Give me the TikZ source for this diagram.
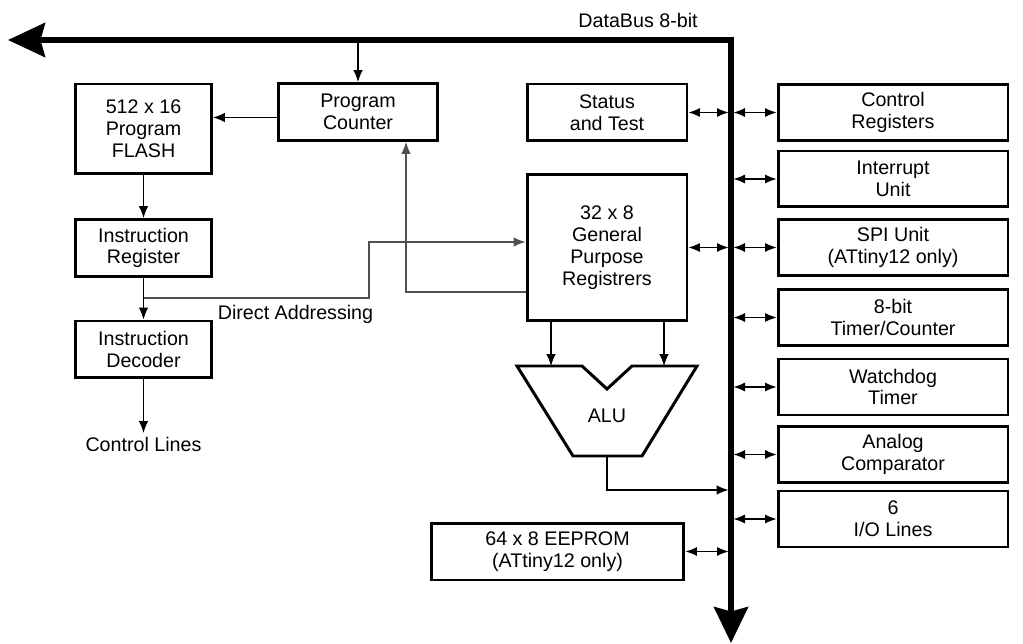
\documentclass[tikz,border=0pt]{standalone}
\usepackage{fontspec}
\setmainfont{Liberation Sans}
\usetikzlibrary{arrows.meta}
\definecolor{wiregray}{HTML}{505050}

\tikzset{
  blk/.style={draw, line width=1.7pt, align=center, inner sep=0pt, minimum height=1.14cm},
  lbl/.style={inner sep=2pt},
  arr/.style={-{Latex[length=0.24cm,width=0.19cm]}, line width=0.6pt},
  garr/.style={arr, draw=wiregray},
  dbl/.style={{Latex[length=0.23cm,width=0.18cm]}-{Latex[length=0.23cm,width=0.18cm]}, line width=0.6pt},
  bus/.style={{Stealth[length=0.74cm,width=0.68cm,inset=0.09cm]}-{Stealth[length=0.72cm,width=0.68cm,inset=0.09cm]}, line width=3.2pt},
}

\begin{document}
\begin{tikzpicture}[x=0.02cm, y=-0.02cm, font=\fontsize{11.2}{12.4}\selectfont]
      \useasboundingbox (0,0) rectangle (1023,644);
      % data bus
      \coordinate (busL) at (8,40);
      \coordinate (busC) at (731,40);
      \coordinate (busB) at (731,643);
      \coordinate (busl) at (728.5,0);
      \coordinate (busr) at (733.5,0);
      \draw[bus] (busL) -- (busC) -- (busB);
      \node[lbl] (buslbl) at (638,20) {DataBus 8-bit};

      % program side
      \node[blk, minimum width=2.72cm, minimum height=1.8cm] (flash) at (143.5,129) {512 x 16\\Program\\FLASH};
      \node[blk, minimum width=3.2cm] (pc) at (358,112) {Program\\Counter};
      \node[blk, minimum width=2.72cm] (ir) at (143.5,248) {Instruction\\Register};
      \node[blk, minimum width=2.72cm] (id) at (143.5,349.5) {Instruction\\Decoder};
      \node[lbl, anchor=north] (ctl) at (143.5,433) {Control Lines};
      \node[lbl, anchor=west] (dalbl) at (214,314) {Direct Addressing};

      % register side
      \node[blk, minimum width=3.2cm] (status) at (607,112.5) {Status\\and Test};
      \node[blk, minimum width=3.2cm, minimum height=2.94cm] (gpr) at (607,247.5) {32 x 8\\General\\Purpose\\Registrers};
      \node[blk, minimum width=5.06cm] (eeprom) at (557.5,551.5) {64 x 8 EEPROM\\(ATtiny12 only)};

      % ALU
      \draw[line width=1.7pt] (517,366) -- (582,366) -- (607,389) -- (632,366) -- (697,366) -- (642,456) -- (573,456) -- cycle;
      \node (alu) at (607,416) {ALU};
      \coordinate (aluL) at (551,366);
      \coordinate (aluR) at (664,366);
      \coordinate (aluout) at (607,456);
      \coordinate (aluin) at (728.5,490);

      % peripherals
      \foreach \n/\yy/\t in {ctrl/112.5/{Control\\Registers}, intr/179/{Interrupt\\Unit},
          spi/247.5/{SPI Unit\\(ATtiny12 only)}, tmr/317.5/{8-bit\\Timer/Counter},
          wdt/387/{Watchdog\\Timer}, ana/454.5/{Analog\\Comparator}, io/519/{6\\I/O Lines}}{
        \node[blk, minimum width=4.6cm, minimum height=1.12cm] (\n) at (893,\yy) {\t};
        \draw[dbl] (\n.west -| busr) -- (\n.west);
      }

      % connections
      \draw[arr] (pc.north |- busC) -- (pc.north);
      \draw[arr] ([yshift=-0.11cm]pc.west) -- ([yshift=-0.11cm]pc.west -| flash.east);
      \draw[arr] (flash.south) -- (ir.north);
      \draw[arr] (ir.south) -- (id.north);
      \draw[arr] (id.south) -- (ctl.north);
      \coordinate (branch) at (143.5,298);
      \coordinate (dabend) at (369,242);
      \draw[garr] (branch) -| (dabend) -- (gpr.west |- dabend);
      \coordinate (retbend) at (406,292);
      \draw[garr] (gpr.west |- retbend) -- (retbend) -- (retbend |- pc.south);
      \draw[dbl] (status.east) -- (status.east -| busl);
      \draw[dbl] (gpr.east) -- (gpr.east -| busl);
      \draw[dbl] (eeprom.east) -- (eeprom.east -| busl);
      \draw[arr] (gpr.south -| aluL) -- (aluL);
      \draw[arr] (gpr.south -| aluR) -- (aluR);
      \draw[arr] (aluout) |- (aluin);
\end{tikzpicture}
\end{document}
